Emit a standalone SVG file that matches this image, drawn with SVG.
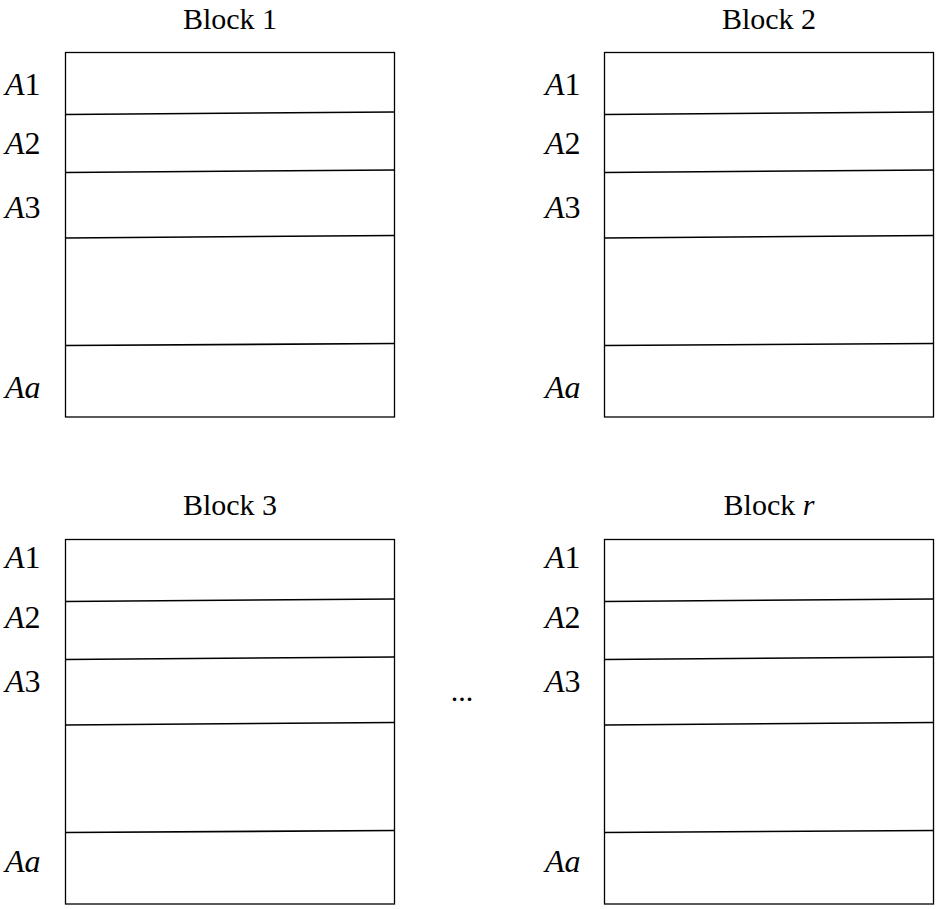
<svg xmlns="http://www.w3.org/2000/svg" width="938" height="909" viewBox="0 0 938 909">
<style>
.box{fill:#fff;stroke:#000;stroke-width:1.3}
.div{stroke:#000;stroke-width:1.6;fill:none}
.t{font-family:"Liberation Serif",serif;font-size:30px;fill:#000}
.lab{font-family:"Liberation Serif",serif;font-size:32px;font-style:italic;fill:#000}
.n{font-style:normal}
</style>
<defs>
<g id="blk">
<rect class="box" x="65.5" y="52.5" width="329" height="364.5"/>
<path class="div" d="M65.5 114.5L394.5 112M65.5 172.5L394.5 170M65.5 238L394.5 235.5M65.5 345.5L394.5 343.5"/>
</g>
<g id="labs">
<text class="lab" x="5" y="94.5">A<tspan class="n">1</tspan></text>
<text class="lab" x="5" y="154">A<tspan class="n">2</tspan></text>
<text class="lab" x="5" y="218">A<tspan class="n">3</tspan></text>
<text class="lab" x="5" y="398">Aa</text>
</g>
</defs>
<g id="block1">
<use href="#blk"/>
<use href="#labs"/>
<text class="t" x="230" y="29" text-anchor="middle">Block 1</text>
</g>
<g id="block2">
<use href="#blk" transform="translate(539,0)"/>
<use href="#labs" transform="translate(540,0)"/>
<text class="t" x="769" y="29" text-anchor="middle">Block 2</text>
</g>
<g id="block3">
<use href="#blk" transform="translate(0,487)"/>
<use href="#labs" transform="translate(0,473.5)"/>
<text class="t" x="230" y="515" text-anchor="middle">Block 3</text>
</g>
<g id="blockr">
<use href="#blk" transform="translate(539,487)"/>
<use href="#labs" transform="translate(540,473.5)"/>
<text class="t" x="769" y="515" text-anchor="middle">Block <tspan font-style="italic">r</tspan></text>
</g>
<g id="ellipsis">
<text class="t" x="462" y="701" text-anchor="middle">...</text>
</g>
<g id="connectors"/>
</svg>
